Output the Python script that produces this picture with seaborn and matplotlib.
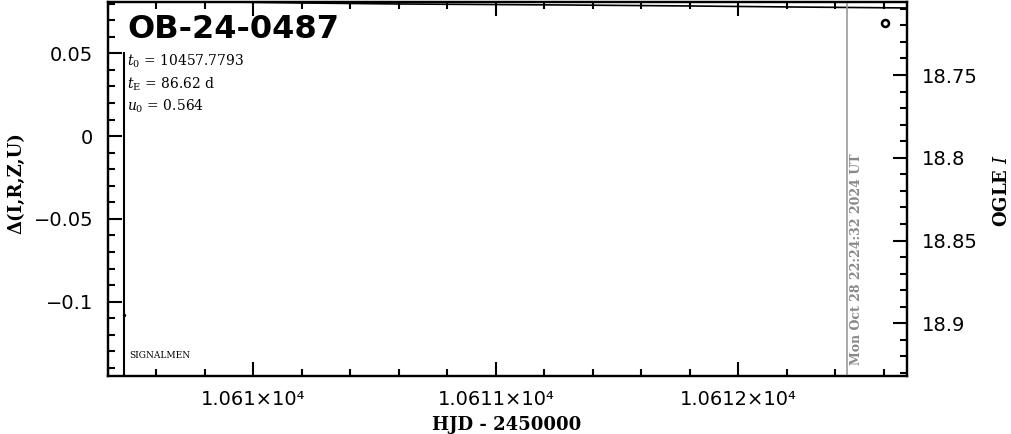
import matplotlib
matplotlib.use("Agg")
import matplotlib.pyplot as plt
import matplotlib.ticker as mticker
import numpy as np
import pandas as pd
import seaborn as sns

# ---- data ----
model_hjd = [10609.40, 10609.80, 10610.21, 10610.60, 10611.28, 10611.80, 10612.21, 10612.70]
model_mag = [18.7054, 18.7057, 18.7065, 18.7071, 18.7077, 18.7083, 18.7089, 18.7095]
ogle_hjd = [10612.604]
ogle_mag = [18.7188]
resid_hjd = [10609.466]
resid_delta = [-0.108]
resid_err = [0.159]
now_hjd = 10612.448
now_label = "Mon Oct 28 22:24:32 2024 UT"
event_name = "OB-24-0487"
param_lines = [r"$t_0$ = 10457.7793", r"$t_{\rm E}$ = 86.62 d", r"$u_0$ = 0.564"]
xtick_vals = [10610, 10611, 10612]
xtick_labels = ["1.061×10⁴", "1.0611×10⁴", "1.0612×10⁴"]
ltick_vals = [0.05, 0, -0.05, -0.1]
ltick_labels = ["0.05", "0", "−0.05", "−0.1"]
rtick_vals = [18.75, 18.8, 18.85, 18.9]
rtick_labels = ["18.75", "18.8", "18.85", "18.9"]

sns.set_theme(style="ticks")
plt.rcParams["font.family"] = ["DejaVu Sans"]
plt.rcParams["mathtext.fontset"] = "dejavuserif"
plt.rcParams["text.color"] = "black"
plt.rcParams["axes.labelcolor"] = "black"
plt.rcParams["xtick.color"] = "black"
plt.rcParams["ytick.color"] = "black"

fig = plt.figure(figsize=(10.11, 4.34), dpi=100)
L, R, T, B = 108, 907, 2, 376
W, H = 1011, 434
ax = fig.add_axes([L / W, (H - B) / H, (R - L) / W, (B - T) / H])
ax2 = ax.twinx()

ax.set_xlim(10609.40, 10612.695)
ax.set_ylim(-0.1449, 0.081)
ax2.set_ylim(18.9318, 18.7059)

# residual point with error bar
ax.errorbar(resid_hjd, resid_delta, yerr=resid_err, fmt="none", ecolor="black", elinewidth=1.5, capsize=0)
sns.scatterplot(x=resid_hjd, y=resid_delta, ax=ax, color="black", s=6, marker="o", linewidth=0)

# model curve and data
model_df = pd.DataFrame({"hjd": model_hjd, "mag": model_mag})
sns.lineplot(data=model_df, x="hjd", y="mag", ax=ax2, color="black", linewidth=1.2)
ax2.plot(ogle_hjd, ogle_mag, linestyle="none", marker="o", markersize=5,
         markerfacecolor="white", markeredgecolor="black", markeredgewidth=1.8)

ax2.axvline(now_hjd, color="#999999", linewidth=1.2)
ax2.text((856 - L) / (R - L), (B - 365) / (B - T), now_label, transform=ax.transAxes,
         rotation=90, ha="center", va="bottom", color="#888888",
         fontsize=9, fontweight="bold", family="DejaVu Serif")

# title and params
ax.text((127 - L) / (R - L), (B - 38) / (B - T), event_name, transform=ax.transAxes,
        fontsize=23, fontweight="bold", ha="left", va="baseline", color="black")
for i, line in enumerate(param_lines):
    ax.text((127 - L) / (R - L), (B - (66 + 22.5 * i)) / (B - T), line, transform=ax.transAxes,
            fontsize=10, ha="left", va="baseline", family="DejaVu Serif", color="black")
ax.text((129 - L) / (R - L), (B - 358) / (B - T), "SIGNALMEN", transform=ax.transAxes,
        fontsize=6.5, ha="left", va="baseline", family="DejaVu Serif", color="black")

# ticks
ax.xaxis.set_major_locator(mticker.FixedLocator(xtick_vals))
ax.set_xticklabels(xtick_labels)
ax.xaxis.set_minor_locator(mticker.MultipleLocator(0.2))
ax.yaxis.set_major_locator(mticker.FixedLocator(ltick_vals))
ax.set_yticklabels(ltick_labels)
ax.yaxis.set_minor_locator(mticker.MultipleLocator(0.01))
ax2.yaxis.set_major_locator(mticker.FixedLocator(rtick_vals))
ax2.set_yticklabels(rtick_labels)
ax2.yaxis.set_minor_locator(mticker.MultipleLocator(0.01))

ax.tick_params(axis="x", which="both", direction="in", top=True, bottom=True, width=1.5,
               colors="black", labelcolor="black")
ax.tick_params(axis="x", which="major", length=10, pad=10, labelsize=14)
ax.tick_params(axis="x", which="minor", length=5)
ax.tick_params(axis="y", which="both", direction="in", left=True, right=False, width=1.5,
               colors="black", labelcolor="black")
ax.tick_params(axis="y", which="major", length=10, pad=10.5, labelsize=14)
ax.tick_params(axis="y", which="minor", length=5)
ax2.tick_params(axis="y", which="both", direction="in", right=True, left=False, width=1.5,
                colors="black", labelcolor="black")
ax2.tick_params(axis="y", which="major", length=10, pad=11, labelsize=14)
ax2.tick_params(axis="y", which="minor", length=5)

for a in (ax, ax2):
    for s in a.spines.values():
        s.set_linewidth(1.6)
        s.set_color("black")
        s.set_visible(True)

ax.set_xlabel("HJD - 2450000", family="DejaVu Serif", fontsize=13, fontweight="bold",
              labelpad=5, color="black")
ax.set_ylabel("Δ(I,R,Z,U)", family="DejaVu Serif", fontsize=13, fontweight="bold",
              labelpad=6, color="black")
ax2.set_ylabel(r"OGLE $\mathbf{\mathit{I}}$", family="DejaVu Serif", fontsize=13,
               fontweight="bold", labelpad=11, color="black")
ax2.set_xlabel("")
ax.xaxis.label.set_position(((507 - L) / (R - L), 0))
ax.yaxis.label.set_position((0, (B - 183) / (B - T)))
ax2.yaxis.label.set_position((1, (B - 190) / (B - T)))

fig.savefig("out.png", dpi=100)
